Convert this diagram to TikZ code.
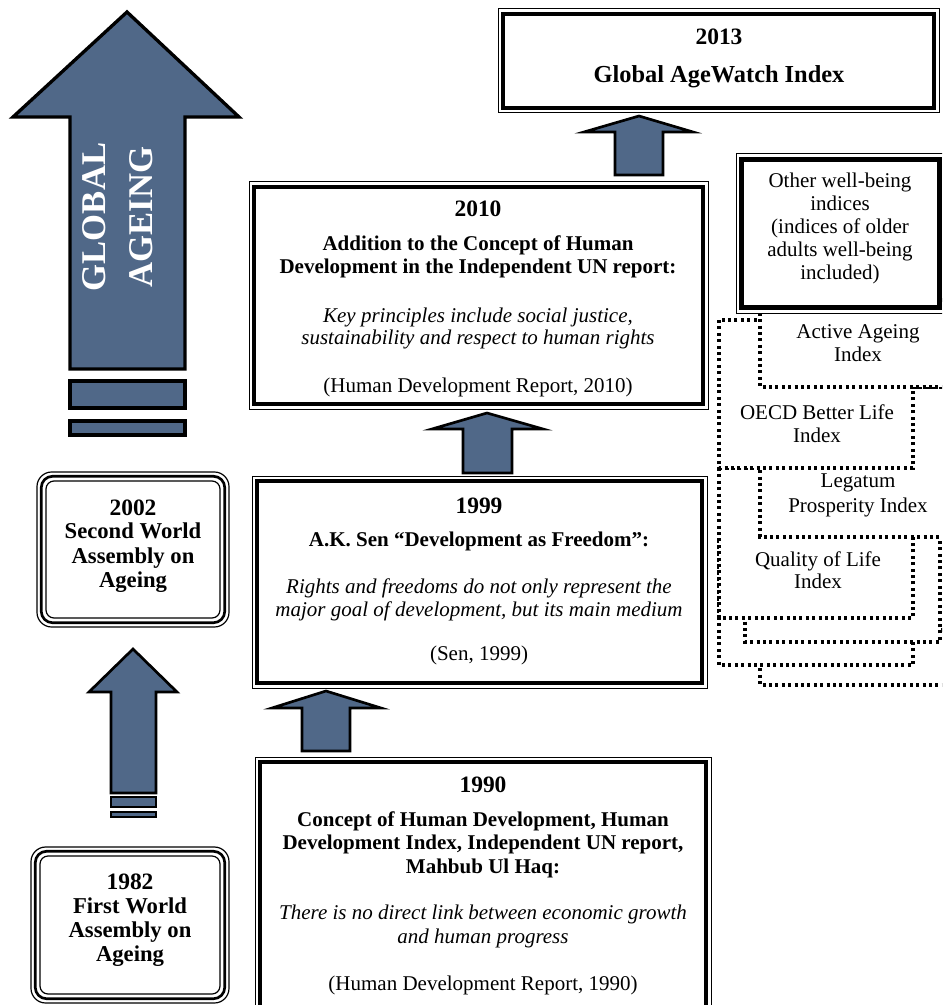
\documentclass[tikz,border=0pt]{standalone}
\usepackage{fontspec}
\setmainfont{Liberation Serif}
\usetikzlibrary{fit}
\definecolor{arrowblue}{RGB}{80,104,136}
\newcommand\ttframe[3]{% node, inset, thick width
  \draw[line width=0.75pt] (#1.north west) rectangle (#1.south east);
  \draw[line width=#3] ([xshift=#2,yshift=-#2]#1.north west) rectangle ([xshift=-#2,yshift=#2]#1.south east);}
\newcommand\triframe[1]{%
  \draw[line width=0.9pt, rounded corners=11pt] (#1.north west) rectangle (#1.south east);
  \draw[line width=2pt, rounded corners=8.5pt] ([xshift=3.2pt,yshift=-3.2pt]#1.north west) rectangle ([xshift=-3.2pt,yshift=3.2pt]#1.south east);
  \draw[line width=0.9pt, rounded corners=6pt] ([xshift=6.75pt,yshift=-6.75pt]#1.north west) rectangle ([xshift=-6.75pt,yshift=6.75pt]#1.south east);}
\tikzset{
  blockarrow/.style={fill=arrowblue, draw=black, line width=2pt, line join=miter},
  bigarrow/.style={fill=arrowblue, draw=black, line width=2.5pt, line join=miter},
  dotbox/.style={draw=black, fill=white, line width=2.4pt, dash pattern=on 2.2pt off 2.6pt},
  frame/.style={inner sep=0pt, outer sep=0pt},
  yr/.style={font=\fontsize{17.6}{20}\selectfont\bfseries, anchor=base, inner sep=0pt},
  bt/.style={font=\fontsize{15.75}{18}\selectfont\bfseries, anchor=base, inner sep=0pt},
  it/.style={font=\fontsize{15.75}{18}\selectfont\itshape, anchor=base, inner sep=0pt},
  rm/.style={font=\fontsize{15.75}{18}\selectfont, anchor=base, inner sep=0pt},
  lb/.style={font=\fontsize{17}{20}\selectfont\bfseries, anchor=base, inner sep=0pt},
  gt/.style={font=\fontsize{18.3}{20}\selectfont\bfseries, anchor=base, inner sep=0pt},
  bigtxt/.style={font=\fontsize{26}{35}\selectfont\bfseries, text=white, align=center, inner sep=0pt, rotate=90},
}
\begin{document}
\begin{tikzpicture}[x=0.75pt,y=-0.75pt]
\useasboundingbox (0,0) rectangle (942,1005);
\clip (0,0) rectangle (942,1005);

% ---- dotted index boxes (back to front)
\draw[dotbox] (760,630) rectangle (960,685);
\draw[dotbox] (719,540) rectangle (913,665);
\draw[dotbox] (745,500) rectangle (940,642);
\draw[dotbox] (719,468) rectangle (913,618);
\draw[dotbox] (760,387) rectangle (960,537);
\draw[dotbox] (719,320) rectangle (913,468);
\draw[dotbox] (760,300) rectangle (960,387);

% ---- frames
\node[frame, fit={(498,9) (939,113)}] (b2013) {};
\ttframe{b2013}{3.5pt}{3pt}
\node[frame, fit={(249,182) (708,409)}] (b2010) {};
\ttframe{b2010}{3.5pt}{3pt}
\node[frame, fit={(252,476) (707,688)}] (b1999) {};
\ttframe{b1999}{3.5pt}{3pt}
\node[frame, fit={(255,757) (711,1012)}] (b1990) {};
\ttframe{b1990}{3.5pt}{3pt}
\node[frame, fit={(736,154) (945,313)}] (bother) {};
\fill[white] (bother.north west) rectangle (bother.south east);
\ttframe{bother}{4.1pt}{3.9pt}
\node[frame, fit={(37,472) (229,627)}] (b2002) {};
\triframe{b2002}
\node[frame, fit={(31,847) (229,1003)}] (b1982) {};
\triframe{b1982}

% ---- block arrows
\draw[bigarrow] (70,369) -- (70,117) -- (13,117) -- (127,12) -- (239,117) -- (185,117) -- (185,369) -- cycle;
\draw[bigarrow] (70,381) rectangle (185,408);
\draw[bigarrow] (70,421) rectangle (185,435);
\draw[blockarrow] (615,175) -- (615,132) -- (584,132) -- (639,116) -- (693,132) -- (663,132) -- (663,175) -- cycle;
\draw[blockarrow] (463,473) -- (463,429) -- (432,429) -- (487,413) -- (543,429) -- (512,429) -- (512,473) -- cycle;
\draw[blockarrow] (302,751) -- (302,708) -- (272,708) -- (326,691) -- (381,708) -- (350,708) -- (350,751) -- cycle;
\draw[blockarrow] (111,793) -- (111,692) -- (89,692) -- (133,649) -- (177,692) -- (156,692) -- (156,793) -- cycle;
\draw[blockarrow] (111,797) rectangle (156,807);
\draw[blockarrow] (111,812) rectangle (156,817);

% ---- texts
\node[bigtxt] (ga) at (118,217) {GLOBAL\\AGEING};

\node[yr] (y2013) at (719,45) {2013};
\node[gt] (t2013) at (719,83) {Global AgeWatch Index};

\node[yr] (y2010) at (478,217) {2010};
\node[bt] (a2010) at (478,251) {Addition to the Concept of Human};
\node[bt] (b2010t) at (478,274) {Development in the Independent UN report:};
\node[it] (c2010) at (478,322) {Key principles include social justice,};
\node[it] (d2010) at (478,344) {sustainability and respect to human rights};
\node[rm] (e2010) at (478,392) {(Human Development Report, 2010)};

\node[yr] (y1999) at (479,513) {1999};
\node[bt] (a1999) at (479,546) {A.K. Sen “Development as Freedom”:};
\node[it] (b1999t) at (479,593) {Rights and freedoms do not only represent the};
\node[it] (c1999) at (479,616) {major goal of development, but its main medium};
\node[rm] (d1999) at (479,660) {(Sen, 1999)};

\node[yr] (y1990) at (483,792) {1990};
\node[bt] (a1990) at (483,826) {Concept of Human Development, Human};
\node[bt] (b1990t) at (483,849) {Development Index, Independent UN report,};
\node[bt] (c1990) at (483,873) {Mahbub Ul Haq:};
\node[it] (d1990) at (483,919) {There is no direct link between economic growth};
\node[it] (e1990) at (483,943) {and human progress};
\node[rm] (f1990) at (483,990) {(Human Development Report, 1990)};

\node[yr] (y2002) at (133,515) {2002};
\node[lb] (a2002) at (133,538) {Second World};
\node[lb] (b2002t) at (133,563) {Assembly on};
\node[lb] (c2002) at (133,587) {Ageing};

\node[yr] (y1982) at (130,889) {1982};
\node[lb] (a1982) at (130,913) {First World};
\node[lb] (b1982t) at (130,937) {Assembly on};
\node[lb] (c1982) at (130,961) {Ageing};

\node[rm] (o1) at (840,188) {Other well-being};
\node[rm] (o2) at (840,211) {indices};
\node[rm] (o3) at (840,234) {(indices of older};
\node[rm] (o4) at (840,257) {adults well-being};
\node[rm] (o5) at (840,280) {included)};

\node[rm] (aa1) at (858,338) {Active Ageing};
\node[rm] (aa2) at (858,361) {Index};
\node[rm] (oe1) at (817,419) {OECD Better Life};
\node[rm] (oe2) at (817,442) {Index};
\node[rm] (lg1) at (858,487) {Legatum};
\node[rm] (lg2) at (858,512) {Prosperity Index};
\node[rm] (ql1) at (818,566) {Quality of Life};
\node[rm] (ql2) at (818,588) {Index};
\end{tikzpicture}
\end{document}
